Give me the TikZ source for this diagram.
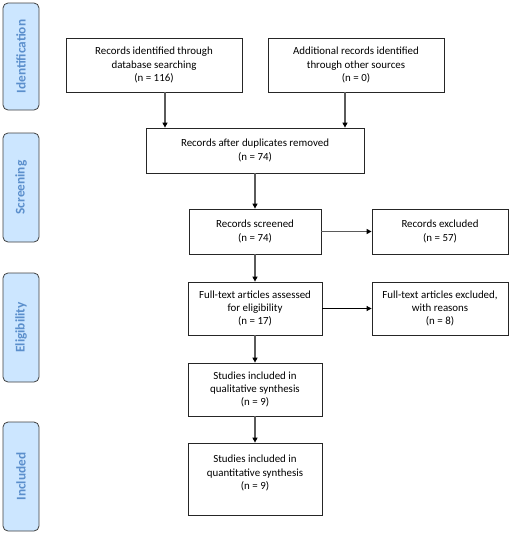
\documentclass[tikz,border=0pt]{standalone}
\usepackage{fontspec}
\setmainfont{Carlito}
\usetikzlibrary{arrows.meta}
\definecolor{sidefill}{HTML}{CCE6FF}
\definecolor{sidetext}{HTML}{5B8FCC}
\definecolor{linegray}{HTML}{5A5A5A}
\begin{document}
\begin{tikzpicture}[x=1pt,y=1pt,
  box/.style={draw=black!85, line width=0.8pt, align=center, inner sep=0pt, font=\fontsize{10.9}{13.4}\selectfont},
  sidebox/.style={draw=black!75, fill=sidefill, line width=0.8pt, rounded corners=5pt, rotate=90, inner sep=0pt,
    minimum height=36pt, text=sidetext, font=\fontsize{13.3}{15}\selectfont\bfseries},
  flow/.style={draw=linegray, line width=1.3pt, -{Triangle[length=5pt,width=5pt,color=black]}},
  thinflow/.style={draw=black, line width=0.8pt, -{Triangle[length=5pt,width=5pt]}}]
\useasboundingbox (0,0) rectangle (514,-542);
% side labels
\node[sidebox, minimum width=107pt] (s1) at (21,-56.5) {Identification};
\node[sidebox, minimum width=109pt] (s2) at (21,-187.5) {Screening};
\node[sidebox, minimum width=109pt] (s3) at (21,-327.5) {Eligibility};
\node[sidebox, minimum width=109pt] (s4) at (21,-476.5) {Included};
% boxes
\node[box, minimum width=176pt, minimum height=54pt] (b1) at (154,-65) {Records identified through\\database searching\\(n = 116)};
\node[box, minimum width=176pt, minimum height=54pt] (b2) at (356,-65) {Additional records identified\\through other sources\\(n = 0)};
\node[box, minimum width=218pt, minimum height=45pt] (b3) at (255,-150.5) {Records after duplicates removed\\(n = 74)};
\node[box, minimum width=132pt, minimum height=45pt] (b4) at (255,-231.5) {Records screened\\(n = 74)};
\node[box, minimum width=136pt, minimum height=45pt] (b5) at (440,-231.5) {Records excluded\\(n = 57)};
\node[box, minimum width=134pt, minimum height=53pt] (b6) at (255,-308.5) {Full-text articles assessed\\for eligibility\\(n = 17)};
\node[box, minimum width=136pt, minimum height=53pt] (b7) at (440,-308.5) {Full-text articles excluded,\\with reasons\\(n = 8)};
\node[box, minimum width=134pt, minimum height=53pt] (b8) at (255,-389.5) {Studies included in\\qualitative synthesis\\(n = 9)};
\node[box, minimum width=134pt, minimum height=72pt] (b9) at (255,-479) {Studies included in\\quantitative synthesis\\(n = 9)\\~};
% connectors
\draw[flow] ([xshift=11pt]b1.south) -- ([xshift=11pt]b1.south |- b3.north);
\draw[flow] ([xshift=-11pt]b2.south) -- ([xshift=-11pt]b2.south |- b3.north);
\draw[flow] (b3) -- (b4);
\draw[flow] (b4) -- (b5);
\draw[flow] (b4) -- (b6);
\draw[thinflow] (b6) -- (b7);
\draw[flow] (b6) -- (b8);
\draw[flow] (b8) -- (b9);
\end{tikzpicture}
\end{document}
